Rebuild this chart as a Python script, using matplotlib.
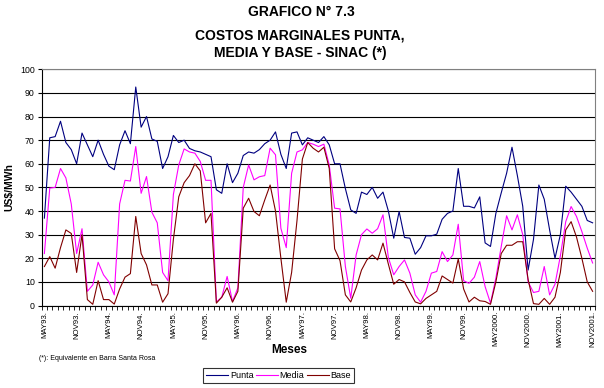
import numpy as np
import matplotlib
matplotlib.use('Agg')
from matplotlib import pyplot as plt

plt.rcParams['font.family'] = ['Liberation Sans', 'DejaVu Sans']

# costos marginales mensuales, US$/MWh (MAY93 ... NOV2001)
punta = [37, 71, 71.5, 78, 69, 66, 60, 73, 68, 63,
         70, 64, 59, 57.5, 68, 74, 68.5, 92.5, 75.5, 80,
         70.5, 69.5, 58, 63, 72, 69, 70, 66.5, 65.5, 65,
         64, 63, 49, 47.5, 60, 52, 56, 63.5, 65, 64.5,
         66, 68.5, 70, 73.5, 64, 58, 73, 73.5, 68, 71,
         70, 69, 71.5, 68, 60, 60, 49.5, 40.5, 39, 48,
         47, 50, 45.4, 48, 40, 28.5, 39.8, 28.8, 28.5, 21.7,
         24.5, 29.5, 29.5, 30.2, 36.5, 39, 40, 58, 42, 42,
         41.3, 46, 26.5, 25, 39, 47.7, 56, 67, 55, 42,
         15, 28, 51, 45, 32, 20, 30, 50.5, 48, 45,
         42, 36, 35]

media = [22, 49.7, 50, 58, 54, 43, 22, 32.5, 6, 8.7,
         18.3, 13, 10, 4.5, 43, 53, 52.7, 67.3, 47.5, 54.6,
         39.5, 35, 14, 10.5, 47, 59.5, 66.3, 65, 64.5, 61,
         53, 53, 1.5, 3.5, 12.3, 1.7, 7.5, 50, 59.5, 53.2,
         54.5, 55, 66.6, 63.8, 32.7, 24.5, 56, 65, 65.9, 69,
         68.3, 67.3, 68.3, 59.5, 41.2, 40.9, 16.5, 3.1, 21.4, 30,
         32.4, 30.6, 32.5, 38.4, 20.3, 13, 16.5, 19.3, 13.7, 4.5,
         1.4, 6, 13.7, 14.4, 22.8, 18.6, 21.4, 34.4, 10.5, 9.4,
         12, 18.6, 8, 1, 11.6, 25, 38, 32, 38.4, 30,
         10, 5.5, 6, 16.5, 4.5, 9, 21, 35.5, 41.9, 37.7,
         31.3, 24.3, 18]

base = [16.5, 20.7, 15.8, 24.5, 32, 30.5, 14, 30, 2.5, 0.5,
        10.5, 2.5, 2.5, 0.6, 7, 12, 13.5, 37.7, 22, 17.2,
        8.7, 8.7, 1.4, 5, 28, 46, 52, 55, 60, 57,
        35, 39, 1, 3.5, 7.5, 1.4, 6, 41.2, 45.4, 39.8,
        38, 44.7, 51, 40, 20, 1.4, 14, 36, 62, 69,
        66.6, 65, 67, 58, 24, 19, 4.5, 1.5, 7.5, 15,
        19.3, 21.4, 19.3, 26.4, 17.5, 9, 11, 10, 5.5, 1.5,
        0.7, 3, 4.5, 6, 12.5, 11, 9.5, 19.7, 7, 1.5,
        3.5, 2, 1.7, 0.5, 10, 22, 25.5, 25.5, 27, 27,
        11, 0.8, 0.5, 3, 0.5, 3.5, 14, 32, 35.5, 29,
        20, 10, 6]

etiquetas = ['MAY93.', 'NOV93.', 'MAY94.', 'NOV94.', 'MAY95.', 'NOV95.',
             'MAY96.', 'NOV96.', 'MAY97.', 'NOV97.', 'MAY98.', 'NOV98.',
             'MAY99.', 'NOV99.', 'MAY2000.', 'NOV2000.', 'MAY2001.', 'NOV2001.']

W, H = 604, 388
fig = plt.figure(figsize=(W / 100, H / 100), dpi=100)
ax = fig.add_axes([41.7 / W, 1 - 305.5 / H, (595.3 - 41.7) / W, (305.5 - 69.3) / H])

x = np.arange(len(punta))
ax.plot(x, punta, color='#000080', lw=0.8, label='Punta')
ax.plot(x, media, color='#FF00FF', lw=0.8, label='Media')
ax.plot(x, base, color='#800000', lw=0.8, label='Base')

ax.set_xlim(-0.5, len(punta) - 0.5)
ax.set_ylim(0, 100)
ax.set_yticks(range(0, 101, 10))
ax.tick_params(axis='y', labelsize=6.3, length=3, width=0.8, pad=2)
ax.yaxis.grid(True, color='black', lw=0.8)
ax.set_axisbelow(True)

ax.set_xticks(x[::6])
ax.set_xticklabels(etiquetas, rotation=90, fontsize=5.6)
ax.set_xticks(np.arange(-0.5, len(punta), 1), minor=True)
ax.tick_params(axis='x', which='major', length=0, pad=4)
ax.tick_params(axis='x', which='minor', length=3, width=0.6)

for s in ['top', 'right']:
    ax.spines[s].set_color('#808080')
for s in ['left', 'bottom']:
    ax.spines[s].set_color('black')

fig.text(301 / W, 1 - 12 / H, 'GRAFICO N° 7.3', ha='center', va='center',
         fontsize=10, fontweight='bold')
fig.text(300 / W, 1 - 36 / H, 'COSTOS MARGINALES PUNTA,', ha='center', va='center',
         fontsize=10, fontweight='bold')
fig.text(300 / W, 1 - 53 / H, 'MEDIA Y BASE - SINAC (*)', ha='center', va='center',
         fontsize=10, fontweight='bold')
fig.text(9 / W, 1 - 187 / H, 'US$/MWh', rotation=90, ha='center', va='center',
         fontsize=7.5, fontweight='bold')
fig.text(289 / W, 1 - 350 / H, 'Meses', ha='center', va='center',
         fontsize=8.5, fontweight='bold')
fig.text(39 / W, 1 - 358 / H, '(*): Equivalente en Barra Santa Rosa', ha='left',
         va='center', fontsize=5)

leg = fig.legend(loc='center', bbox_to_anchor=(278.5 / W, 1 - 375.5 / H), ncol=3,
                 fontsize=6.5, frameon=True, fancybox=False, handlelength=2.5,
                 handletextpad=0.15, columnspacing=0.25, borderpad=0.35,
                 borderaxespad=0)
leg.get_frame().set_edgecolor('black')
leg.get_frame().set_linewidth(0.8)

fig.savefig('out.png', dpi=100)
